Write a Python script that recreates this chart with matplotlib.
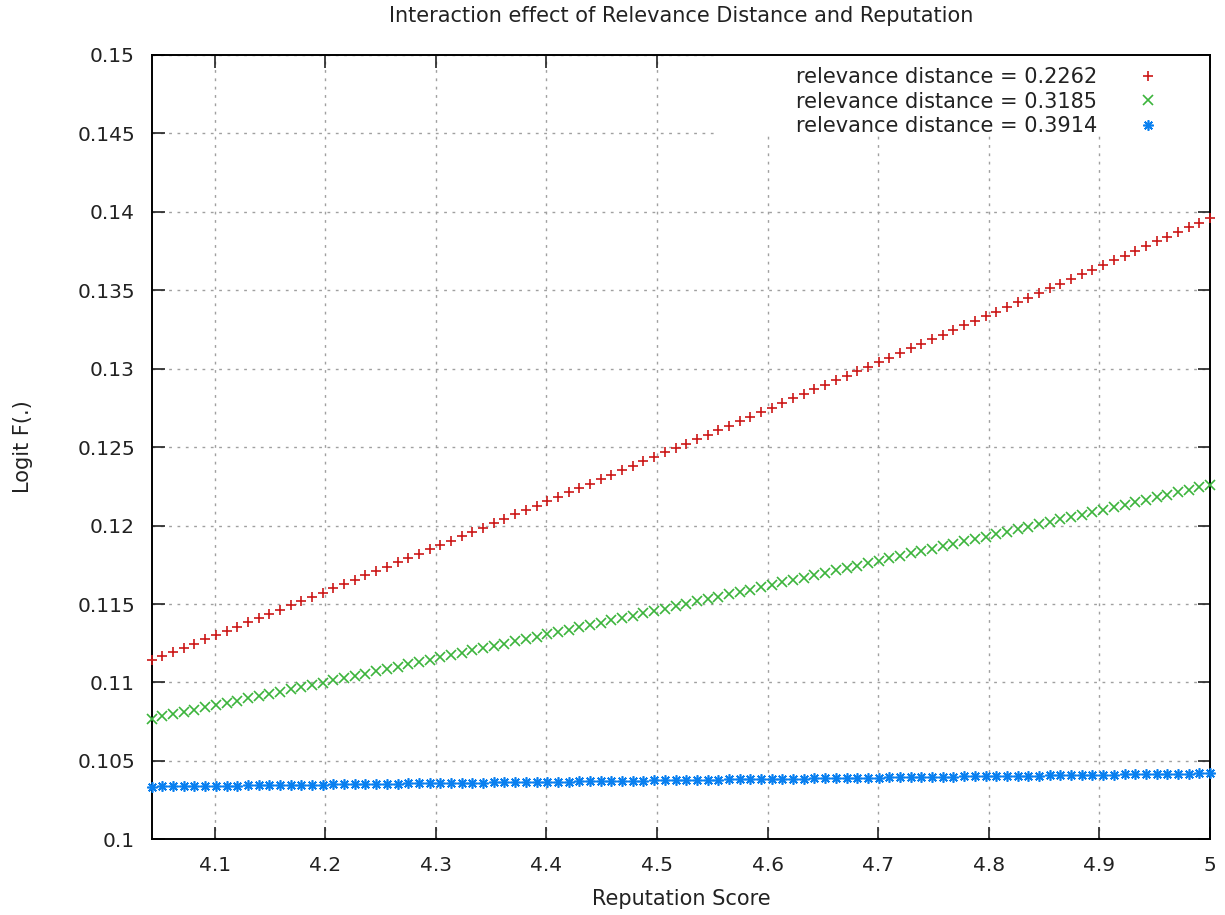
import matplotlib
matplotlib.use("Agg")
import matplotlib.pyplot as plt
from matplotlib.patches import Rectangle

OUTPUT_IMG = "out.png"

TITLE = "Interaction effect of Relevance Distance and Reputation"
X_LABEL = "Reputation Score"
Y_LABEL = "Logit F(.)"
LABELS = ["relevance distance = 0.2262",
          "relevance distance = 0.3185",
          "relevance distance = 0.3914"]

X_TICKS = [4.1, 4.2, 4.3, 4.4, 4.5, 4.6, 4.7, 4.8, 4.9, 5.0]
X_TICK_LABELS = ["4.1", "4.2", "4.3", "4.4", "4.5", "4.6", "4.7", "4.8", "4.9", "5"]
Y_TICKS = [0.1, 0.105, 0.11, 0.115, 0.12, 0.125, 0.13, 0.135, 0.14, 0.145, 0.15]
Y_TICK_LABELS = ["0.1", "0.105", "0.11", "0.115", "0.12", "0.125",
                 "0.13", "0.135", "0.14", "0.145", "0.15"]

# reputation score samples (100 points)
reputation = [
    4.0430, 4.0527, 4.0623, 4.0720, 4.0817, 4.0913, 4.1010, 4.1107, 4.1203, 4.1300,
    4.1397, 4.1493, 4.1590, 4.1687, 4.1783, 4.1880, 4.1977, 4.2073, 4.2170, 4.2267,
    4.2363, 4.2460, 4.2557, 4.2653, 4.2750, 4.2847, 4.2943, 4.3040, 4.3137, 4.3233,
    4.3330, 4.3427, 4.3523, 4.3620, 4.3717, 4.3813, 4.3910, 4.4007, 4.4103, 4.4200,
    4.4297, 4.4393, 4.4490, 4.4587, 4.4683, 4.4780, 4.4877, 4.4973, 4.5070, 4.5167,
    4.5263, 4.5360, 4.5457, 4.5553, 4.5650, 4.5747, 4.5843, 4.5940, 4.6037, 4.6133,
    4.6230, 4.6327, 4.6423, 4.6520, 4.6617, 4.6713, 4.6810, 4.6907, 4.7003, 4.7100,
    4.7197, 4.7293, 4.7390, 4.7487, 4.7583, 4.7680, 4.7777, 4.7873, 4.7970, 4.8067,
    4.8163, 4.8260, 4.8357, 4.8453, 4.8550, 4.8647, 4.8743, 4.8840, 4.8937, 4.9033,
    4.9130, 4.9227, 4.9323, 4.9420, 4.9517, 4.9613, 4.9710, 4.9807, 4.9903, 5.0000,
]

logit_0_2262 = [
    0.11140, 0.11167, 0.11194, 0.11221, 0.11248, 0.11274, 0.11301, 0.11328, 0.11356, 0.11383,
    0.11410, 0.11437, 0.11464, 0.11491, 0.11519, 0.11546, 0.11573, 0.11601, 0.11628, 0.11654,
    0.11683, 0.11710, 0.11738, 0.11766, 0.11793, 0.11821, 0.11848, 0.11876, 0.11904, 0.11932,
    0.11960, 0.11987, 0.12015, 0.12043, 0.12071, 0.12099, 0.12127, 0.12155, 0.12183, 0.12211,
    0.12240, 0.12268, 0.12296, 0.12324, 0.12352, 0.12381, 0.12409, 0.12438, 0.12466, 0.12494,
    0.12523, 0.12552, 0.12580, 0.12609, 0.12637, 0.12666, 0.12695, 0.12723, 0.12752, 0.12781,
    0.12810, 0.12839, 0.12868, 0.12897, 0.12926, 0.12955, 0.12984, 0.13013, 0.13042, 0.13071,
    0.13100, 0.13129, 0.13159, 0.13188, 0.13217, 0.13247, 0.13276, 0.13305, 0.13335, 0.13364,
    0.13394, 0.13424, 0.13453, 0.13483, 0.13512, 0.13542, 0.13572, 0.13602, 0.13631, 0.13661,
    0.13691, 0.13721, 0.13751, 0.13781, 0.13811, 0.13841, 0.13871, 0.13901, 0.13931, 0.13962,
]

logit_0_3185 = [
    0.10770, 0.10784, 0.10798, 0.10813, 0.10827, 0.10841, 0.10856, 0.10870, 0.10884, 0.10899,
    0.10913, 0.10927, 0.10942, 0.10956, 0.10971, 0.10985, 0.10999, 0.11014, 0.11028, 0.11043,
    0.11057, 0.11072, 0.11087, 0.11101, 0.11116, 0.11130, 0.11145, 0.11160, 0.11174, 0.11189,
    0.11204, 0.11219, 0.11233, 0.11248, 0.11263, 0.11278, 0.11292, 0.11307, 0.11322, 0.11337,
    0.11352, 0.11367, 0.11382, 0.11397, 0.11411, 0.11426, 0.11441, 0.11456, 0.11471, 0.11486,
    0.11502, 0.11517, 0.11532, 0.11547, 0.11562, 0.11577, 0.11592, 0.11607, 0.11623, 0.11638,
    0.11653, 0.11668, 0.11683, 0.11699, 0.11714, 0.11729, 0.11745, 0.11760, 0.11775, 0.11791,
    0.11806, 0.11822, 0.11837, 0.11852, 0.11868, 0.11883, 0.11899, 0.11914, 0.11930, 0.11945,
    0.11961, 0.11977, 0.11992, 0.12008, 0.12023, 0.12039, 0.12055, 0.12070, 0.12086, 0.12102,
    0.12118, 0.12133, 0.12149, 0.12165, 0.12181, 0.12197, 0.12212, 0.12228, 0.12244, 0.12260,
]

logit_0_3914 = [
    0.103360, 0.103368, 0.103376, 0.103385, 0.103393, 0.103401, 0.103409, 0.103418, 0.103426, 0.103434,
    0.103442, 0.103451, 0.103459, 0.103467, 0.103476, 0.103484, 0.103492, 0.103501, 0.103509, 0.103517,
    0.103526, 0.103534, 0.103542, 0.103551, 0.103559, 0.103568, 0.103576, 0.103584, 0.103593, 0.103601,
    0.103610, 0.103618, 0.103627, 0.103635, 0.103643, 0.103652, 0.103660, 0.103669, 0.103677, 0.103686,
    0.103694, 0.103703, 0.103711, 0.103720, 0.103729, 0.103737, 0.103746, 0.103754, 0.103763, 0.103771,
    0.103780, 0.103789, 0.103797, 0.103806, 0.103814, 0.103823, 0.103832, 0.103840, 0.103849, 0.103858,
    0.103866, 0.103875, 0.103884, 0.103892, 0.103901, 0.103910, 0.103919, 0.103927, 0.103936, 0.103945,
    0.103954, 0.103962, 0.103971, 0.103980, 0.103989, 0.103998, 0.104006, 0.104015, 0.104024, 0.104033,
    0.104042, 0.104050, 0.104059, 0.104068, 0.104077, 0.104086, 0.104095, 0.104104, 0.104113, 0.104121,
    0.104130, 0.104139, 0.104148, 0.104157, 0.104166, 0.104175, 0.104184, 0.104193, 0.104202, 0.104211,
]

SERIES = [logit_0_2262, logit_0_3185, logit_0_3914]
COLORS = ["#cc1818", "#3cb43c", "#0a80f0"]
MARKERS = ["+", "x", (8, 2, 0)]
SIZES = [7.5, 6.5, 7.5]


def make_plot(img_path=OUTPUT_IMG):
    plt.rcParams["font.family"] = ["DejaVu Sans"]
    fig = plt.figure(figsize=(12.25, 9.15), dpi=100)
    ax = fig.add_axes([0.1238, 0.0827, 0.864, 0.8573])

    for ys, label, color, marker, size in zip(SERIES, LABELS, COLORS, MARKERS, SIZES):
        ax.plot(reputation, ys, linestyle="none", marker=marker, color=color,
                markersize=size, markeredgewidth=1.2, label=label, zorder=3,
                clip_on=False)

    ax.set_xlim(reputation[0], 5.0)
    ax.set_ylim(0.1, 0.15)
    ax.set_xticks(X_TICKS)
    ax.set_xticklabels(X_TICK_LABELS)
    ax.set_yticks(Y_TICKS)
    ax.set_yticklabels(Y_TICK_LABELS)
    ax.tick_params(direction="in", length=9, width=1.2, top=True, right=True,
                   labelsize=14.5, pad=12, colors="#222222")
    for spine in ax.spines.values():
        spine.set_linewidth(1.4)
        spine.set_color("black")

    ax.set_axisbelow(True)
    ax.grid(True, color="#a0a0a0", linestyle=(0, (2, 4)), linewidth=1.0)

    # key area blanks the grid behind it
    ax.add_patch(Rectangle((0.532, 0.898), 0.468, 0.102, transform=ax.transAxes,
                           facecolor="white", edgecolor="none", zorder=1))

    ax.legend(loc="upper right", bbox_to_anchor=(0.970, 1.003), frameon=False,
              markerfirst=False, fontsize=15, handlelength=1.5, handletextpad=1.7,
              labelspacing=0.22, borderpad=0.2, labelcolor="#222222")

    ax.set_title(TITLE, fontsize=15, pad=24, color="#222222")
    ax.set_xlabel(X_LABEL, fontsize=15, labelpad=10, color="#222222")
    ax.set_ylabel(Y_LABEL, fontsize=15, labelpad=32, color="#222222")

    fig.savefig(img_path, dpi=100)
    plt.close(fig)


def main():
    make_plot()


if __name__ == "__main__":
    main()
